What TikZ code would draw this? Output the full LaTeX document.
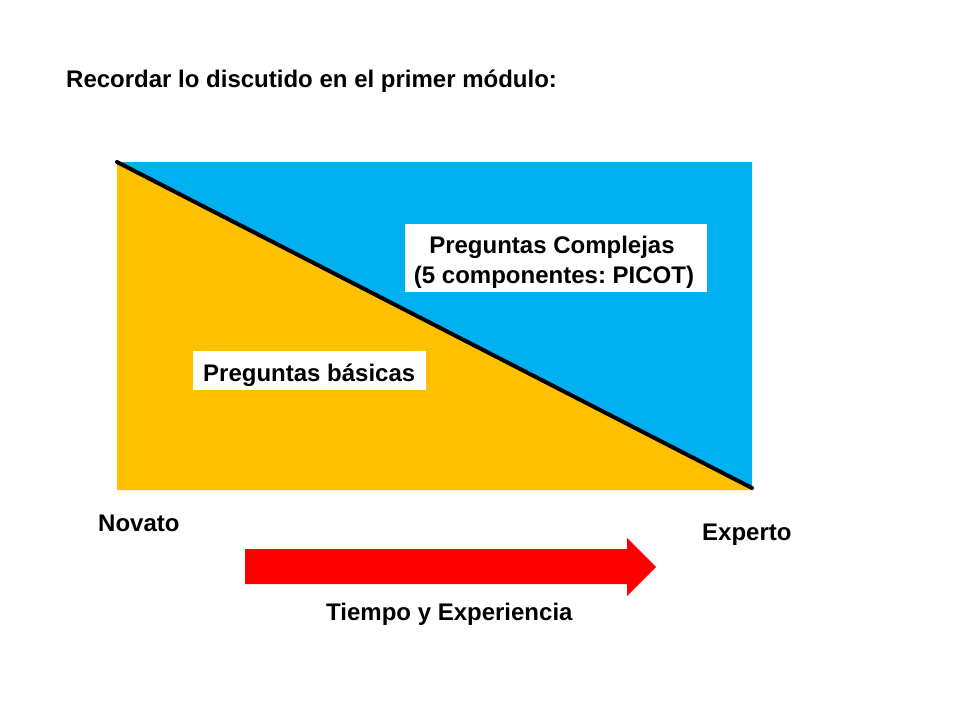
\documentclass[tikz,border=0pt]{standalone}
\usepackage{fontspec}
\setmainfont{Liberation Sans}
\frenchspacing
\definecolor{cyanblue}{HTML}{00B0F0}
\definecolor{goldy}{HTML}{FFC000}
\definecolor{redarrow}{HTML}{FF0000}
\tikzset{
  lbl/.style={font=\fontsize{24}{30}\selectfont\bfseries, inner sep=0pt, anchor=base west},
  whitebox/.style={fill=white, draw=none}
}
\begin{document}
\begin{tikzpicture}[x=1pt,y=-1pt]
\useasboundingbox[fill=white] (0,0) rectangle (960,720);
% big rectangle
\coordinate (tl) at (117,162);
\coordinate (tr) at (752,162);
\coordinate (br) at (752,490);
\coordinate (bl) at (117,490);
\coordinate (lineend) at (752,488);
\fill[goldy] (tl) -- (lineend) -- (br) -- (bl) -- cycle;
\fill[cyanblue] (tl) -- (tr) -- (lineend) -- cycle;
\draw[line width=4pt, line cap=round] (tl) -- (lineend);
% white boxes
\fill[whitebox] (405,224) rectangle (707,292);
\fill[whitebox] (193,351) rectangle (426,390);
% texts
\node[lbl] (title) at (66,87) {Recordar lo discutido en el primer módulo:};
\node[lbl, anchor=base, align=center] (compl1) at (552,253) {Preguntas Complejas};
\node[lbl, anchor=base, align=center] (compl2) at (554,283) {(5 componentes: PICOT)};
\node[lbl] (basic) at (203,381) {Preguntas básicas};
\node[lbl] (novato) at (98,531) {Novato};
\node[lbl] (experto) at (702,540) {Experto};
\node[lbl] (tiempo) at (326,620) {Tiempo y Experiencia};
% arrow
\fill[redarrow] (245,549) -- (627,549) -- (627,538) -- (656,567) -- (627,596) -- (627,584) -- (245,584) -- cycle;
\end{tikzpicture}
\end{document}
